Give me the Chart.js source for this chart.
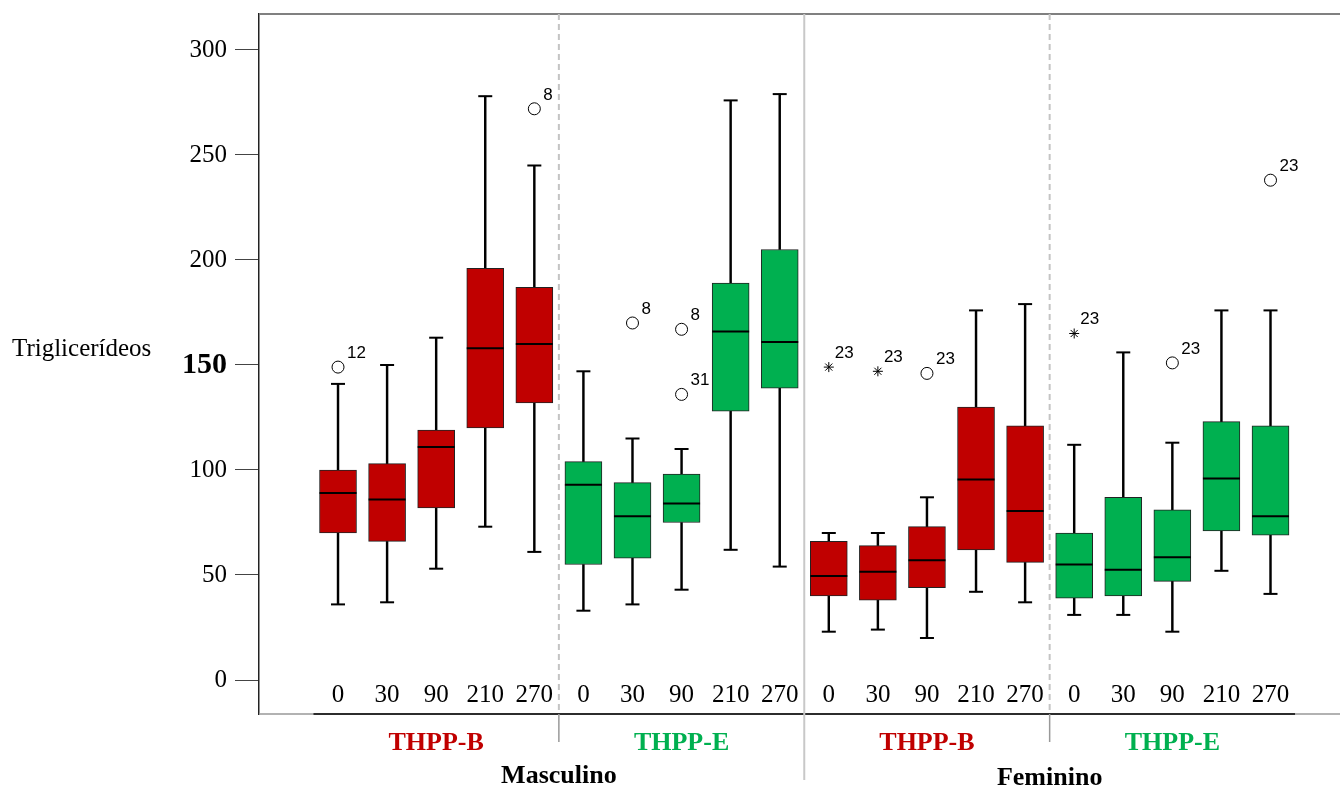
<!DOCTYPE html>
<html lang="pt">
<head>
<meta charset="utf-8">
<title>Triglicerídeos</title>
<script src="https://cdn.jsdelivr.net/npm/chart.js@4.4.1/dist/chart.umd.min.js"></script>
<style>
  html, body { margin: 0; padding: 0; background: #fff; overflow: hidden; }
  canvas { display: block; }
</style>
</head>
<body>
<canvas id="chBox" width="1340" height="789"></canvas>
<script>
// Rotulos
const TEMPOS = ["0", "30", "90", "210", "270"];
const GRUPOS = ["THPP-B", "THPP-E", "THPP-B", "THPP-E"];
const SEXOS = ["Masculino", "Feminino"];
const Y_TICKS = [0, 50, 100, 150, 200, 250, 300];

// Estatisticas de cada caixa (20 caixas: sexo x grupo x tempo)
const MINIMO  = [36, 37, 53, 73, 61,   33, 36, 43, 62, 54,   23, 24, 20, 42, 37,   31, 31, 23, 52, 41];
const Q1      = [70, 66, 82, 120, 132, 55, 58, 75, 128, 139, 40, 38, 44, 62, 56,   39, 40, 47, 71, 69];
const MEDIANA = [89, 86, 111, 158, 160, 93, 78, 84, 166, 161, 49.5, 51.5, 57, 95.5, 80.5, 55, 52.5, 58.5, 96, 78];
const Q3      = [100, 103, 119, 196, 187, 104, 94, 98, 189, 205, 66, 64, 73, 130, 121, 70, 87, 81, 123, 121];
const MAXIMO  = [141, 150, 163, 278, 245, 147, 115, 110, 276, 279, 70, 70, 87, 176, 179, 112, 156, 113, 176, 176];

// Valores atipicos (indice da caixa, valor, caso, extremo = estrela)
const OUT_CAIXA   = [0, 4, 6, 7, 7, 10, 11, 12, 15, 17, 19];
const OUT_VALOR   = [149, 272, 170, 167, 136, 149, 147, 146, 165, 151, 238];
const OUT_ROTULO  = ["12", "8", "8", "8", "31", "23", "23", "23", "23", "23", "23"];
const OUT_EXTREMO = [false, false, false, false, false, true, true, false, true, false, false];

const COR_B = "#c00000";
const COR_E = "#00b050";
const SERIF = '"Liberation Serif", "Times New Roman", serif';
const SANS = '"Liberation Sans", Arial, sans-serif';

const caixas = MEDIANA.map((_, i) => i);
const corCaixa = i => (Math.floor(i / 5) % 2 === 0 ? COR_B : COR_E);

function linha(ctx, x1, y1, x2, y2) {
  ctx.beginPath();
  ctx.moveTo(x1, y1);
  ctx.lineTo(x2, y2);
  ctx.stroke();
}

/** Evita que os rotulos dos eixos reservem margem extra na area do grafico. */
function semPadding(s) {
  s.paddingTop = 0;
  s.paddingBottom = 0;
  s.paddingLeft = 0;
  s.paddingRight = 0;
}

/** Molduras, separadores e todos os textos fora dos eixos. */
const decoracao = {
  id: "decoracao",
  beforeDatasetsDraw(chart) {
    const { ctx, chartArea: a, scales: { x } } = chart;
    ctx.save();
    ctx.strokeStyle = "#808080";
    ctx.lineWidth = 2;
    linha(ctx, a.left, a.top, a.right, a.top);

    ctx.lineWidth = 1.5;
    ctx.strokeStyle = "#999";
    linha(ctx, a.left, a.bottom, a.right, a.bottom);
    ctx.strokeStyle = "#000";
    linha(ctx, x.getPixelForValue(-0.5), a.bottom, x.getPixelForValue(19.5), a.bottom);

    [4.5, 14.5].forEach(v => {
      const px = x.getPixelForValue(v);
      ctx.strokeStyle = "#c4c4c4";
      ctx.lineWidth = 2;
      ctx.setLineDash([6, 4]);
      linha(ctx, px, a.top, px, a.bottom);
      ctx.setLineDash([]);
      ctx.strokeStyle = "#999";
      ctx.lineWidth = 1.5;
      linha(ctx, px, a.bottom, px, a.bottom + 28);
    });

    const meio = x.getPixelForValue(9.5);
    ctx.strokeStyle = "#c8c8c8";
    ctx.lineWidth = 2;
    linha(ctx, meio, a.top, meio, a.bottom + 66);
    ctx.restore();
  },
  afterDraw(chart) {
    const { ctx, chartArea: a, scales: { x, y } } = chart;
    ctx.save();
    ctx.fillStyle = "#000";
    ctx.textBaseline = "alphabetic";

    ctx.font = "25px " + SERIF;
    ctx.textAlign = "left";
    ctx.fillText("Triglicerídeos", 12, y.getPixelForValue(150) - 9);

    ctx.textAlign = "center";
    caixas.forEach(i => ctx.fillText(TEMPOS[i % 5], x.getPixelForValue(i), a.bottom - 12));

    ctx.font = "bold 26px " + SERIF;
    GRUPOS.forEach((g, k) => {
      ctx.fillStyle = k % 2 === 0 ? COR_B : COR_E;
      ctx.fillText(g, x.getPixelForValue(k * 5 + 2), a.bottom + 36);
    });
    ctx.fillStyle = "#000";
    SEXOS.forEach((s, k) => ctx.fillText(s, x.getPixelForValue(k * 10 + 4.5), a.bottom + 69 + k * 2));

    ctx.font = "17px " + SANS;
    ctx.textAlign = "left";
    chart.getDatasetMeta(0).data.forEach((p, k) => {
      ctx.fillText(OUT_ROTULO[k], p.x + (OUT_EXTREMO[k] ? 6 : 9), p.y - 9);
    });
    ctx.restore();
  },
};

new Chart(document.getElementById("chBox"), {
  type: "scatter",
  data: {
    datasets: [
      {
        type: "scatter",
        order: 0,
        data: OUT_CAIXA.map((c, k) => ({ x: c, y: OUT_VALOR[k] })),
        pointStyle: OUT_EXTREMO.map(e => (e ? "star" : "circle")),
        pointRadius: OUT_EXTREMO.map(e => (e ? 5 : 6)),
        backgroundColor: "#fff",
        borderColor: "#000",
        borderWidth: 1,
      },
      {
        type: "scatter",
        order: 1,
        data: caixas.map(i => ({ x: i, y: MEDIANA[i] })),
        pointStyle: "line",
        pointRadius: 18.5,
        borderColor: "#000",
        borderWidth: 2,
      },
      {
        type: "scatter",
        order: 2,
        data: caixas.flatMap(i => [{ x: i, y: MINIMO[i] }, { x: i, y: MAXIMO[i] }]),
        pointStyle: "line",
        pointRadius: 7,
        borderColor: "#000",
        borderWidth: 2,
      },
      {
        type: "bar",
        order: 3,
        data: caixas.map(i => ({ x: i, y: [Q1[i], Q3[i]] })),
        backgroundColor: caixas.map(corCaixa),
        borderColor: "#222",
        borderWidth: 1,
        borderSkipped: false,
        barThickness: 37,
        grouped: false,
      },
      {
        type: "bar",
        order: 4,
        data: caixas.flatMap(i => [{ x: i, y: [MINIMO[i], Q1[i]] }, { x: i, y: [Q3[i], MAXIMO[i]] }]),
        backgroundColor: "#000",
        borderWidth: 0,
        barThickness: 1.8,
        grouped: false,
      },
    ],
  },
  options: {
    responsive: false,
    animation: false,
    events: [],
    layout: { autoPadding: false, padding: { left: 0, top: 14, right: 0, bottom: 75 } },
    plugins: { legend: { display: false }, tooltip: { enabled: false } },
    scales: {
      x: {
        type: "linear",
        display: false,
        offset: false,
        min: -1.61,
        max: 20.416,
        ticks: { display: false },
        afterFit: semPadding,
      },
      y: {
        type: "linear",
        min: -16.19,
        max: 317.14,
        afterBuildTicks: s => { s.ticks = Y_TICKS.map(v => ({ value: v })); },
        afterFit: s => { s.width = 259; semPadding(s); },
        grid: { drawOnChartArea: false, tickLength: 24, color: "#444", lineWidth: 1 },
        border: { color: "#222", width: 1.5 },
        ticks: {
          color: "#000",
          padding: 8,
          font: c => (c.tick && c.tick.value === 150
            ? { family: SERIF, size: 30, weight: "bold" }
            : { family: SERIF, size: 25 }),
        },
      },
    },
  },
  plugins: [decoracao],
});
</script>
</body>
</html>
